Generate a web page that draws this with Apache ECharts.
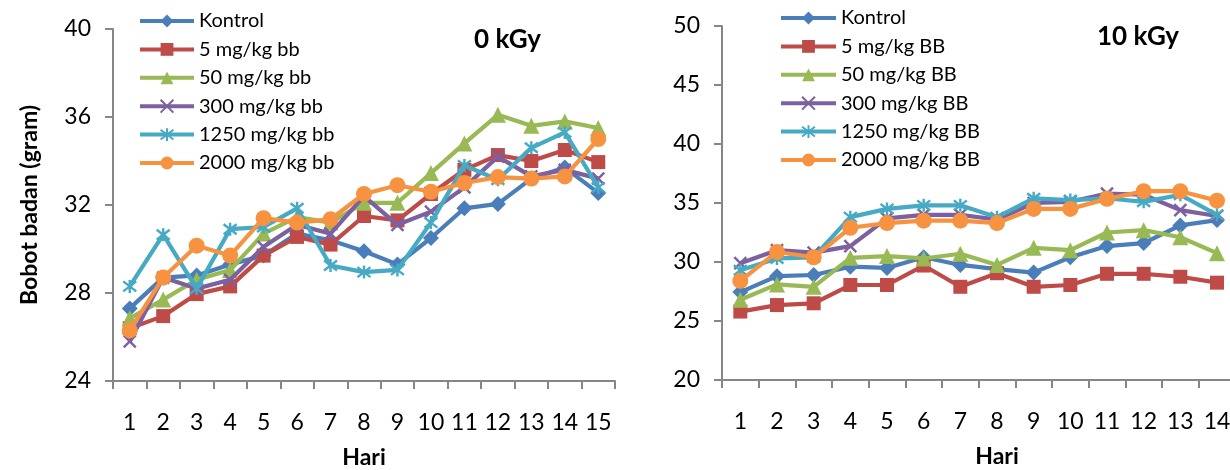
<!DOCTYPE html>
<html>
<head>
<meta charset="utf-8">
<script src="https://cdn.jsdelivr.net/npm/echarts@6/dist/echarts.min.js"></script>
<style>
html,body{margin:0;padding:0;background:#fff;}
#chart{width:1230px;height:470px;}
</style>
</head>
<body>
<div id="chart"></div>
<script>
// ---------- data ----------
const days = ['1','2','3','4','5','6','7','8','9','10','11','12','13','14','15'];

const namesA = ['Kontrol','5 mg/kg bb','50 mg/kg bb','300 mg/kg bb','1250 mg/kg bb','2000 mg/kg bb'];
const namesB = ['Kontrol','5 mg/kg BB','50 mg/kg BB','300 mg/kg BB','1250 mg/kg BB','2000 mg/kg BB'];

// 0 kGy
const a_kontrol = [27.3, 28.7, 28.8, 29.3, 29.7, 30.7, 30.4, 29.9, 29.3, 30.5, 31.85, 32.05, 33.2, 33.7, 32.55];
const a_5       = [26.4, 26.95, 27.95, 28.3, 29.7, 30.55, 30.2, 31.5, 31.3, 32.5, 33.6, 34.27, 34.0, 34.5, 33.95];
const a_50      = [26.85, 27.7, 28.6, 29.05, 30.7, 31.45, 31.2, 32.1, 32.1, 33.45, 34.8, 36.1, 35.6, 35.8, 35.5];
const a_300     = [25.8, 28.7, 28.2, 28.6, 30.1, 31.1, 30.7, 32.4, 31.1, 31.7, 32.8, 34.2, 33.3, 33.6, 33.2];
const a_1250    = [28.3, 30.65, 28.2, 30.9, 31.0, 31.85, 29.25, 28.95, 29.05, 31.2, 33.8, 33.15, 34.6, 35.3, 32.8];
const a_2000    = [26.3, 28.7, 30.15, 29.7, 31.4, 31.2, 31.35, 32.5, 32.9, 32.6, 33.0, 33.27, 33.2, 33.3, 35.0];

// 10 kGy
const b_kontrol = [27.45, 28.8, 28.9, 29.6, 29.5, 30.4, 29.75, 29.4, 29.1, 30.4, 31.35, 31.6, 33.1, 33.55];
const b_5       = [25.8, 26.35, 26.5, 28.05, 28.05, 29.7, 27.9, 29.05, 27.9, 28.05, 29.0, 29.0, 28.75, 28.25];
const b_50      = [26.8, 28.1, 27.9, 30.35, 30.5, 30.3, 30.7, 29.75, 31.2, 31.0, 32.5, 32.7, 32.1, 30.75];
const b_300     = [29.9, 31.0, 30.8, 31.35, 33.7, 34.0, 34.0, 33.6, 35.0, 35.1, 35.8, 35.7, 34.4, 33.9];
const b_1250    = [29.3, 30.3, 30.4, 33.8, 34.5, 34.8, 34.8, 33.8, 35.4, 35.25, 35.4, 35.1, 35.7, 34.0];
const b_2000    = [28.4, 30.85, 30.4, 32.9, 33.3, 33.5, 33.5, 33.3, 34.5, 34.5, 35.35, 36.0, 36.0, 35.2];

const yTicksA = {min: 24, max: 40, interval: 4};
const yTicksB = {min: 20, max: 50, interval: 5};

// ---------- styles ----------
const colors = ['#4A7EBB', '#BE4B48', '#98B954', '#7D60A0', '#46AAC5', '#F69240'];
const symbols = [
  {symbol: 'diamond', size: 16},
  {symbol: 'rect', size: 14},
  {symbol: 'triangle', size: 16},
  {symbol: 'path://M0,0L10,10M10,0L0,10', size: 12, stroke: true},
  {symbol: 'path://M0,0L10,10M10,0L0,10M5,-1.5L5,11.5', size: 13, stroke: true},
  {symbol: 'circle', size: 16}
];
const FONT = 'Lato';
const axisGray = '#868686';

function mkSeries(names, datas, xi) {
  return names.map((n, i) => {
    const s = symbols[i];
    const item = {color: colors[i]};
    if (s.stroke) { item.borderColor = colors[i]; item.borderWidth = 2.4; }
    return {
      type: 'line',
      name: n,
      xAxisIndex: xi, yAxisIndex: xi,
      data: datas[i],
      symbol: s.symbol,
      symbolSize: s.size,
      showAllSymbol: true,
      lineStyle: {color: colors[i], width: 4.2},
      itemStyle: item,
      emphasis: {disabled: true},
      animation: false,
      z: 2 + i
    };
  });
}

function xAxisCfg(gi) {
  return {
    type: 'category', gridIndex: gi, data: days, boundaryGap: true,
    axisLine: {lineStyle: {color: axisGray, width: 2}},
    axisTick: {show: true, length: 8, lineStyle: {color: axisGray, width: 2}},
    axisLabel: {color: '#000', fontFamily: FONT, fontSize: 23, margin: 30, interval: 0},
    name: 'Hari', nameLocation: 'middle', nameGap: 65,
    nameTextStyle: {color: '#000', fontFamily: FONT, fontSize: 23, fontWeight: 'bold'},
    splitLine: {show: false}
  };
}
function yAxisCfg(gi, t, name) {
  const c = {
    type: 'value', gridIndex: gi, min: t.min, max: t.max, interval: t.interval,
    axisLine: {show: true, lineStyle: {color: axisGray, width: 2}},
    axisTick: {show: true, length: 8, lineStyle: {color: axisGray, width: 2}},
    axisLabel: {color: '#000', fontFamily: FONT, fontSize: 23, margin: 22},
    splitLine: {show: false}
  };
  if (name) {
    c.name = name; c.nameLocation = 'middle'; c.nameGap = 72;
    c.nameTextStyle = {color: '#000', fontFamily: FONT, fontSize: 23, fontWeight: 'bold'};
  }
  return c;
}

function legendCfg(names, left, top, itemWidth) {
  return {
    orient: 'vertical', left: left, top: top, padding: 0,
    data: names, itemWidth: itemWidth, itemHeight: 16, itemGap: 8.4,
    selectedMode: false,
    lineStyle: {width: 4},
    textStyle: {color: '#000', fontFamily: FONT, fontSize: 20, lineHeight: 20}
  };
}

const chart = echarts.init(document.getElementById('chart'), null, {renderer: 'canvas'});
chart.setOption({
  animation: false,
  backgroundColor: '#fff',
  title: [
    {text: '0 kGy', left: 469, top: 22, textStyle: {fontFamily: FONT, fontSize: 26, fontWeight: 'bold', color: '#000'}},
    {text: '10 kGy', left: 1092, top: 19, textStyle: {fontFamily: FONT, fontSize: 26, fontWeight: 'bold', color: '#000'}}
  ],
  grid: [
    {left: 113, width: 502, top: 29, height: 352, containLabel: false, outerBoundsMode: 'none'},
    {left: 722, width: 550, top: 26, height: 354, containLabel: false, outerBoundsMode: 'none'}
  ],
  xAxis: [xAxisCfg(0), xAxisCfg(1)],
  yAxis: [yAxisCfg(0, yTicksA, 'Bobot badan (gram)'), yAxisCfg(1, yTicksB, null)],
  legend: [
    legendCfg(namesA, 138, 11, 54),
    legendCfg(namesB, 779, 8, 55)
  ],
  series: [].concat(
    mkSeries(namesA, [a_kontrol, a_5, a_50, a_300, a_1250, a_2000], 0),
    mkSeries(namesB, [b_kontrol, b_5, b_50, b_300, b_1250, b_2000], 1)
  )
});
</script>
</body>
</html>
